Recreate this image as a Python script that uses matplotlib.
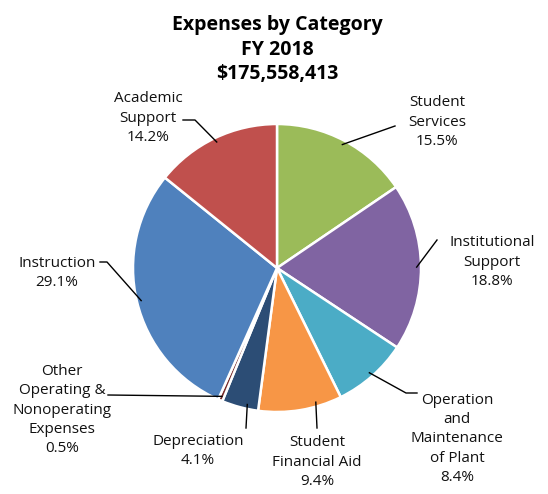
import numpy as np
import matplotlib
matplotlib.use("Agg")
import matplotlib.pyplot as plt

W, H = 548, 494

categories = ["Student\nServices", "Institutional\nSupport",
              "Operation\nand\nMaintenance\nof Plant", "Student\nFinancial Aid",
              "Depreciation", "Other\nOperating &\nNonoperating\nExpenses",
              "Instruction", "Academic\nSupport"]
shares = [15.5, 18.8, 8.4, 9.4, 4.1, 0.5, 29.1, 14.2]
colors = ["#9BBB59", "#8064A2", "#4BACC6", "#F79646",
          "#2C4D75", "#772C2A", "#4F81BD", "#C0504D"]

# label centre (px), leader end near label (px), elbow (px or None), where on the wedge the leader hits
label_pos = [(437, 122), (492, 262), (457, 439), (317, 462),
             (198, 451), (62, 410), (57, 273), (148, 118)]
leader_end = [(395, 126), (437, 240), (417, 393), (317, 428),
              (246, 428), (108, 395), (100, 262), (183, 120)]
leader_elbow = [None, None, (406, 393), None, None, None, (107, 262), (195, 120)]
leader_at = [0.5, 0.5, 0.5, 0.70, 0.68, 0.5, 0.5, 0.5]

plt.rcParams['font.family'] = ['Open Sans', 'DejaVu Sans']

fig = plt.figure(figsize=(W / 100, H / 100), dpi=100)
ax = fig.add_axes([0, 0, 1, 1])

cx, cy, r = 277, H - 268, 144
wedges, _ = ax.pie(shares, colors=colors, startangle=90, counterclock=False,
                   center=(cx, cy), radius=r, frame=True,
                   wedgeprops=dict(edgecolor='white', linewidth=1.8))
ax.set_xlim(0, W)
ax.set_ylim(0, H)
ax.set_aspect('equal')
ax.axis('off')

for w, lab, val, pos, end, elbow, f in zip(wedges, categories, shares, label_pos,
                                            leader_end, leader_elbow, leader_at):
    ang = np.deg2rad(w.theta1 + (w.theta2 - w.theta1) * f)
    px, py = cx + r * 0.97 * np.cos(ang), cy + r * 0.97 * np.sin(ang)
    xs = [px]
    ys = [py]
    if elbow is not None:
        xs.append(elbow[0]); ys.append(H - elbow[1])
    xs.append(end[0]); ys.append(H - end[1])
    ax.plot(xs, ys, color='black', lw=1)
    ax.text(pos[0], H - pos[1], f"{lab}\n{val:.1f}%", ha='center', va='center',
            fontsize=11, linespacing=1.4, color='#111111')

ax.text(277, H - 50, "Expenses by Category\nFY 2018\n$175,558,413", ha='center',
        va='center', fontsize=14, fontweight='bold', linespacing=1.3)

fig.savefig("out.png", dpi=100)
